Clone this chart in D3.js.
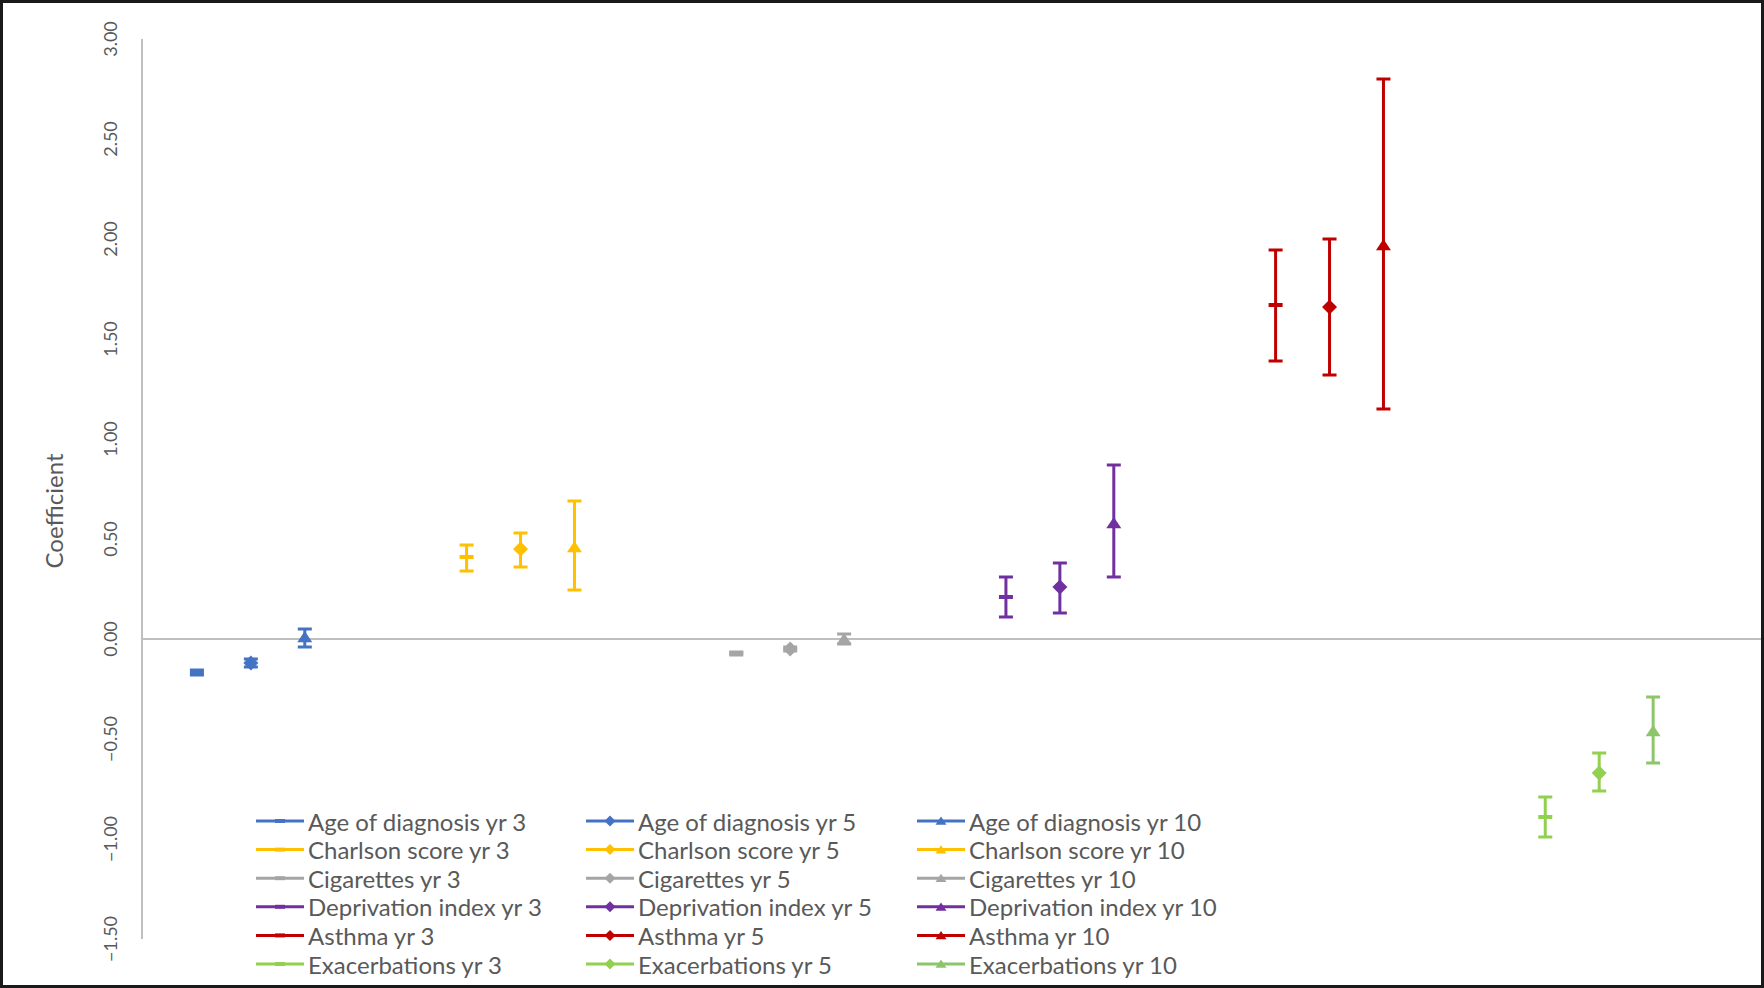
<!DOCTYPE html>
<html>
<head>
<meta charset="utf-8">
<script src="https://cdn.jsdelivr.net/npm/d3@7/dist/d3.min.js"></script>
<style>
    html, body { margin: 0; padding: 0; background: #fff; }
    svg { display: block; font-family: Lato, "Open Sans", sans-serif; }
</style>
</head>
<body>
<div id="chart"></div>
<script>
// ---- data ----
const groups = ["Age of diagnosis", "Charlson score", "Cigarettes", "Deprivation index", "Asthma", "Exacerbations"];
const years = ["yr 3", "yr 5", "yr 10"];

// coefficient per group (rows) and year (columns)
const coefficients = [
    [-0.17, -0.12, 0.01],
    [0.41, 0.45, 0.46],
    [-0.07, -0.05, 0.00],
    [0.21, 0.26, 0.58],
    [1.67, 1.66, 1.97],
    [-0.89, -0.67, -0.46]
];
const lowerCI = [
    [-0.18, -0.14, -0.04],
    [0.34, 0.36, 0.245],
    [-0.08, -0.06, -0.025],
    [0.11, 0.13, 0.31],
    [1.39, 1.32, 1.15],
    [-0.99, -0.76, -0.62]
];
const upperCI = [
    [-0.155, -0.10, 0.05],
    [0.47, 0.53, 0.69],
    [-0.065, -0.04, 0.025],
    [0.31, 0.38, 0.87],
    [1.945, 2.00, 2.80],
    [-0.79, -0.57, -0.29]
];
const yTicks = [-1.5, -1.0, -0.5, 0, 0.5, 1.0, 1.5, 2.0, 2.5, 3.0];

const groupColors = ["#4472C4", "#FFC000", "#A5A5A5", "#7030A0", "#C00000", "#92D050"];
const colorOverride = { "Exacerbations yr 10": "#8DC56B" };

class ErrorBarChart {
    constructor(container, { width, height }) {
        this.width = width ?? 1764;
        this.height = height ?? 988;
        this.container = container;
        this.series = this._series();
        this.svg = this._svg();
        this.x = d3.scaleLinear().domain([-1, 29]).range([143, 1761]);
        this.y = d3.scaleLinear().domain([-1.5, 3]).range([939, 39]);
        this._axes();
        this._bars();
        this._markers(this.svg.append("g"), this.series, 7.5, d => this.x(d.slot), d => this.y(d.value));
        this._legend();
        this._frame();
    };

    _series() {
        // 5 category slots per group, three of them used
        return groups.flatMap((g, gi) => years.map((yr, yi) => {
            let label = `${g} ${yr}`;
            return {
                label: label,
                slot: gi * 5 + yi,
                kind: yi,
                value: coefficients[gi][yi],
                lo: lowerCI[gi][yi],
                hi: upperCI[gi][yi],
                color: colorOverride[label] ?? groupColors[gi]
            };
        }));
    };

    _svg() {
        let { width, height, container } = this;
        return d3.select(container)
                 .append("svg")
                 .attr("width", width)
                 .attr("height", height);
    };

    _axes() {
        let { svg, x, y } = this;
        let [x0, x1] = x.range();

        // vertical axis line
        svg.append("line")
           .attr("x1", x0 - 1).attr("x2", x0 - 1)
           .attr("y1", y(3)).attr("y2", y(-1.5))
           .attr("stroke", "#BFBFBF").attr("stroke-width", 2);

        // zero line
        svg.append("line")
           .attr("x1", x0).attr("x2", x1)
           .attr("y1", y(0)).attr("y2", y(0))
           .attr("stroke", "#BFBFBF").attr("stroke-width", 2);

        svg.append("g")
           .selectAll("text")
           .data(yTicks)
           .enter()
           .append("text")
               .attr("transform", d => `translate(110,${y(d)}) rotate(-90)`)
               .attr("text-anchor", "middle")
               .attr("dominant-baseline", "central")
               .attr("font-size", 18)
               .attr("fill", "#595959")
               .text(d3.format(".2f"));

        svg.append("text")
           .attr("transform", `translate(53,${y(0.64)}) rotate(-90)`)
           .attr("text-anchor", "middle")
           .attr("dominant-baseline", "central")
           .attr("font-size", 24)
           .attr("fill", "#595959")
           .text("Coefficient");
    };

    _bars() {
        let { svg, x, y, series } = this;
        let cap = 7;

        let g = svg.append("g")
                   .selectAll("g")
                   .data(series)
                   .enter()
                   .append("g")
                   .attr("stroke", d => d.color)
                   .attr("stroke-width", 3);

        g.append("line")
         .attr("x1", d => x(d.slot)).attr("x2", d => x(d.slot))
         .attr("y1", d => y(d.lo)).attr("y2", d => y(d.hi));
        g.append("line")
         .attr("x1", d => x(d.slot) - cap).attr("x2", d => x(d.slot) + cap)
         .attr("y1", d => y(d.lo)).attr("y2", d => y(d.lo));
        g.append("line")
         .attr("x1", d => x(d.slot) - cap).attr("x2", d => x(d.slot) + cap)
         .attr("y1", d => y(d.hi)).attr("y2", d => y(d.hi));
    };

    _shape(kind, r) {
        if (kind === 0) return `M${-r},-2H${r}V2H${-r}Z`; // dash
        if (kind === 1) return `M0,${-r}L${r},0L0,${r}L${-r},0Z`; // diamond
        return `M0,${-r * 0.8}L${r},${r * 0.7}L${-r},${r * 0.7}Z`; // triangle
    };

    _markers(g, data, r, fx, fy) {
        g.selectAll("path")
         .data(data)
         .enter()
         .append("path")
             .attr("transform", d => `translate(${fx(d)},${fy(d)})`)
             .attr("d", d => this._shape(d.kind, d.kind === 0 ? r - 0.5 : r))
             .attr("fill", d => d.color);
    };

    _legend() {
        let { svg, series } = this;
        let colX = [256, 586, 917];
        let rowY = d3.range(groups.length).map(i => 821 + i * 28.6);

        let items = series.map(d => ({ ...d, lx: colX[d.kind], ly: rowY[Math.floor(d.slot / 5)] }));

        let g = svg.append("g");
        g.selectAll("line")
         .data(items)
         .enter()
         .append("line")
             .attr("x1", d => d.lx).attr("x2", d => d.lx + 48)
             .attr("y1", d => d.ly).attr("y2", d => d.ly)
             .attr("stroke", d => d.color)
             .attr("stroke-width", 3);

        this._markers(g.append("g"), items, 5.5, d => d.lx + 24, d => d.ly);

        g.selectAll("text")
         .data(items)
         .enter()
         .append("text")
             .attr("x", d => d.lx + 52)
             .attr("y", d => d.ly)
             .attr("dominant-baseline", "central")
             .attr("font-size", 24)
             .attr("fill", "#595959")
             .text(d => d.label);
    };

    _frame() {
        let { svg, width, height } = this;
        svg.append("rect")
           .attr("x", 1.5).attr("y", 1.5)
           .attr("width", width - 3).attr("height", height - 3)
           .attr("fill", "none")
           .attr("stroke", "#1a1a1a")
           .attr("stroke-width", 3);
    };
};

new ErrorBarChart("#chart", { width: 1764, height: 988 });
</script>
</body>
</html>
